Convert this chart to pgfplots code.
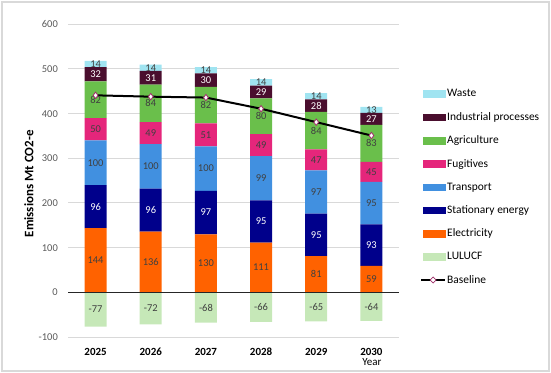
\documentclass[border=0pt]{standalone}
\usepackage{pgfplots}
\usepackage{pgfplotstable}
\pgfplotsset{compat=1.18}
\usepackage{fontspec}
\setmainfont{Carlito}

\definecolor{waste}{HTML}{A0E4F1}
\definecolor{indus}{HTML}{4A0E2E}
\definecolor{agri}{HTML}{6ABF4B}
\definecolor{fugi}{HTML}{E5267B}
\definecolor{trans}{HTML}{4190E0}
\definecolor{stat}{HTML}{00008B}
\definecolor{elec}{HTML}{FF6200}
\definecolor{lulucf}{HTML}{C6E8B8}
\definecolor{basemark}{HTML}{A0306A}
\definecolor{gridgray}{HTML}{D9D9D9}
\definecolor{ticktext}{HTML}{595959}
\definecolor{labtext}{HTML}{404040}

% values and label mid-heights (cumulative midpoints)
\pgfplotstableread{
x E S T F A I W L B Em Sm Tm Fm Am Im Wm Lm
0 144 96 100 50 82 32 14 -77 441 72 192 290 365 431 488 511 -38.5
1 136 96 100 49 84 31 14 -72 438 68 184 282 356.5 423 480.5 503 -36
2 130 97 100 51 82 30 14 -68 436 65 178.5 277 352.5 419 475 497 -34
3 111 95 99 49 80 29 14 -66 411 55.5 158.5 255.5 329.5 394 448.5 470 -33
4 81 95 97 47 84 28 14 -65 381 40.5 128.5 224.5 296.5 362 418 439 -32.5
5 59 93 95 45 83 27 13 -64 351 29.5 105.5 199.5 269.5 333.5 388.5 408.5 -32
}\data

\newcommand\barleg[1]{\addlegendimage{legend image code/.code={\fill[#1] (0bp,-3.3bp) rectangle (22bp,3.3bp);}}}

\pgfplotsset{
  common/.style={
    scale only axis, width=331bp, height=312.7bp,
    xmin=-0.5, xmax=5.5, ymin=-100, ymax=600,
    /pgf/number format/assume math mode=true,
  },
  lab/.style={only marks, mark=none, forget plot, nodes near coords,
    point meta=explicit,
    nodes near coords={\pgfmathprintnumber{\pgfplotspointmeta}},
    every node near coord/.style={anchor=center, inner sep=0pt, text=#1,
      font=\fontsize{10.5}{12}\selectfont}},
}

\begin{document}
\begin{tikzpicture}
\begin{axis}[common,
  ybar stacked, bar width=22bp,
  axis line style={draw=none},
  major tick length=0pt,
  ymajorgrids, grid style={gridgray, line width=1bp},
  ytick={-100,0,...,600},
  yticklabel style={anchor=east, inner sep=0pt, xshift=-10bp, text=ticktext,
    font=\fontsize{10.5}{12}\selectfont},
  xtick={0,...,5}, xticklabels={2025,2026,2027,2028,2029,2030},
  xticklabel style={anchor=center, yshift=-15bp, font=\bfseries\fontsize{11}{13}\selectfont},
  ylabel={Emissions Mt CO2-e},
  every axis y label/.style={at={(rel axis cs:0,0.49)}, xshift=-39bp, rotate=90,
    anchor=center, font=\bfseries\fontsize{13}{15}\selectfont},
  xlabel={Year},
  every axis x label/.style={at={(rel axis cs:0.918,0)}, yshift=-25bp, anchor=center,
    font=\fontsize{11}{13}\selectfont},
]
\addplot[fill=elec, draw=none] table[x=x, y=E] {\data};
\addplot[fill=stat, draw=none] table[x=x, y=S] {\data};
\addplot[fill=trans, draw=none] table[x=x, y=T] {\data};
\addplot[fill=fugi, draw=none] table[x=x, y=F] {\data};
\addplot[fill=agri, draw=none] table[x=x, y=A] {\data};
\addplot[fill=indus, draw=none] table[x=x, y=I] {\data};
\addplot[fill=waste, draw=none] table[x=x, y=W] {\data};
\end{axis}

\begin{axis}[common, hide axis,
  legend style={at={(rel axis cs:1.0634,0.796)}, anchor=north west, draw=none, fill=none,
    font=\fontsize{11.5}{13}\selectfont, row sep=11.6bp, inner sep=0pt,
    nodes={inner sep=1.2bp}},
  legend cell align=left,
]
\addplot[ybar, bar width=22bp, bar shift=0pt, fill=lulucf, draw=none, forget plot]
  table[x=x, y=L] {\data};
\addplot[black!85, line width=1bp, forget plot] coordinates {(-0.5,0) (5.5,0)};
\addplot[lab=labtext] table[x=x, y=Em, meta=E] {\data};
\addplot[lab=white] table[x=x, y=Sm, meta=S] {\data};
\addplot[lab=labtext] table[x=x, y=Tm, meta=T] {\data};
\addplot[lab=labtext] table[x=x, y=Fm, meta=F] {\data};
\addplot[lab=labtext] table[x=x, y=Am, meta=A] {\data};
\addplot[lab=white] table[x=x, y=Im, meta=I] {\data};
\addplot[lab=labtext] table[x=x, y=Wm, meta=W] {\data};
\addplot[lab=labtext] table[x=x, y=Lm, meta=L] {\data};
\addplot[black, line width=2bp, mark=diamond*, mark size=3.2bp,
  mark options={draw=basemark, fill=white, line width=0.8bp}, forget plot]
  table[x=x, y=B] {\data};
\barleg{waste}\addlegendentry{Waste}
\barleg{indus}\addlegendentry{Industrial processes}
\barleg{agri}\addlegendentry{Agriculture}
\barleg{fugi}\addlegendentry{Fugitives}
\barleg{trans}\addlegendentry{Transport}
\barleg{stat}\addlegendentry{Stationary energy}
\barleg{elec}\addlegendentry{Electricity}
\barleg{lulucf}\addlegendentry{LULUCF}
\addlegendimage{legend image code/.code={
  \draw[black, line width=1.8bp] (-2bp,0bp) -- (22bp,0bp);
  \draw[draw=basemark, fill=white, line width=0.8bp] (10bp,3bp) -- (13bp,0bp) -- (10bp,-3bp) -- (7bp,0bp) -- cycle;}}
\addlegendentry{Baseline}
\end{axis}
\draw[gridgray, line width=1.2bp] (-66bp,-34bp) rectangle (481bp,335bp);
\pgfresetboundingbox
\useasboundingbox (-68bp,-36bp) rectangle (483bp,337bp);
\end{tikzpicture}
\end{document}
